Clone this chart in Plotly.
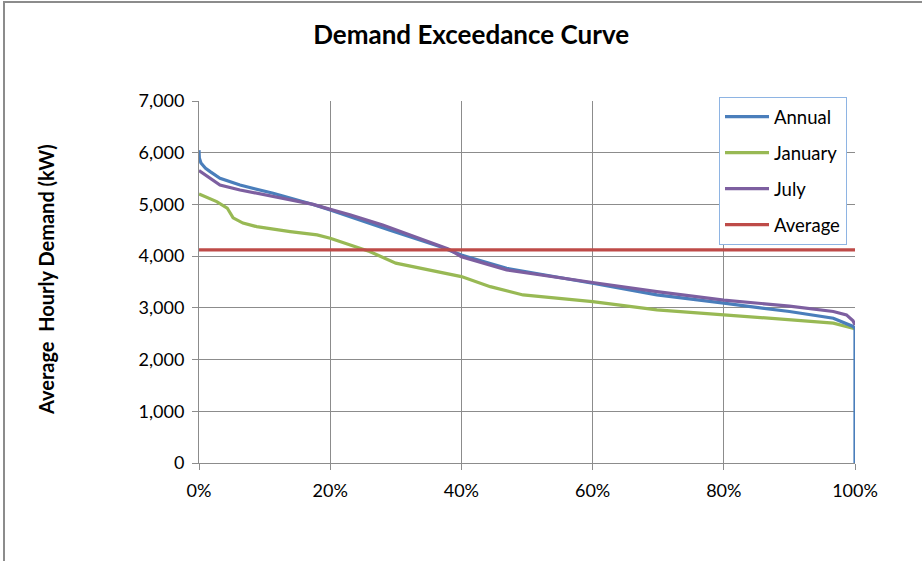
import plotly.graph_objects as go

# Exceedance percentage (%) and demand (kW) for each series
annual_x = [0, 0.05, 0.3, 1, 1.7, 3.2, 6.25, 11.3, 17.4, 20, 29, 36.7, 40, 46.9, 60, 69.8, 80, 90, 96.7, 99.7, 100, 100]
annual_y = [6050, 5900, 5800, 5700, 5635, 5505, 5375, 5215, 5000, 4895, 4505, 4185, 4020, 3765, 3475, 3250, 3090, 2930, 2800, 2640, 2600, 0]

january_x = [0, 2.7, 4.3, 5.2, 6.7, 8.8, 13.9, 18, 20, 23, 26, 30, 34, 38, 40, 44.4, 49.4, 60, 69.8, 80, 90, 96.7, 99.7, 100]
january_y = [5200, 5055, 4930, 4740, 4640, 4570, 4475, 4410, 4345, 4215, 4090, 3865, 3765, 3670, 3605, 3410, 3250, 3120, 2960, 2865, 2770, 2705, 2605, 2590]

july_x = [0, 1.7, 3.2, 6.25, 11.3, 17.4, 20, 23, 28, 34, 38, 40, 46.9, 60, 69.8, 80, 90, 96.7, 98.7, 99.7, 100]
july_y = [5655, 5510, 5375, 5280, 5150, 5000, 4905, 4800, 4600, 4315, 4140, 3990, 3735, 3490, 3315, 3150, 3035, 2930, 2865, 2750, 2670]

average_x = [0, 100]
average_y = [4120, 4120]

x_ticks = [0, 20, 40, 60, 80, 100]
x_tick_labels = ["0%", "20%", "40%", "60%", "80%", "100%"]
y_ticks = [0, 1000, 2000, 3000, 4000, 5000, 6000, 7000]

FONT = "Lato"

fig = go.Figure()
series = [
    ("Annual", annual_x, annual_y, "#4A7EBB"),
    ("January", january_x, january_y, "#98B954"),
    ("July", july_x, july_y, "#7D5FA0"),
    ("Average", average_x, average_y, "#BE4B48"),
]
order = ["January", "Annual", "July", "Average"]
traces = {}
for i, (name, xs, ys, col) in enumerate(series):
    traces[name] = go.Scatter(
        x=[v / 100 for v in xs], y=ys, mode="lines", name=name,
        line=dict(color=col, width=3.2), legendgroup=name, legendrank=i + 1,
        cliponaxis=False,
    )
for name in order:
    fig.add_trace(traces[name])

fig.update_layout(
    width=922, height=561,
    margin=dict(l=199, r=67, t=101, b=98),
    paper_bgcolor="white", plot_bgcolor="white",
    font=dict(family=FONT, size=18, color="#000000"),
    title=dict(text="<b>Demand Exceedance Curve</b>", x=0.511, xanchor="center",
               y=0.937, yanchor="middle", font=dict(size=26, family=FONT)),
    showlegend=True,
    legend=dict(
        x=0.7927, y=1.011, xanchor="left", yanchor="top",
        bordercolor="#8EB4E3", borderwidth=1, bgcolor="white",
        font=dict(size=18.5, family=FONT), tracegroupgap=9,
        itemwidth=44,
    ),
    xaxis=dict(
        range=[0, 1], tickvals=[v / 100 for v in x_ticks], ticktext=x_tick_labels,
        showgrid=True, gridcolor="#8C8C8C", gridwidth=1,
        showline=True, linecolor="#8C8C8C", linewidth=1,
        ticks="outside", ticklen=6, tickcolor="#8C8C8C", ticklabelstandoff=5,
        tickfont=dict(size=18, family=FONT), zeroline=False,
    ),
    yaxis=dict(
        range=[0, 7000], tickvals=y_ticks, tickformat=",",
        showgrid=True, gridcolor="#8C8C8C", gridwidth=1,
        showline=True, linecolor="#8C8C8C", linewidth=1,
        ticks="outside", ticklen=6, tickcolor="#8C8C8C", ticklabelstandoff=4,
        tickfont=dict(size=18, family=FONT), zeroline=False,
    ),
    annotations=[
        dict(text="<b>Average  Hourly Demand (kW)</b>", textangle=-90,
             xref="paper", yref="paper", x=(46 - 199) / 656, y=(463 - 280) / 362,
             xanchor="center", yanchor="middle", showarrow=False,
             font=dict(size=20, family=FONT)),
    ],
    shapes=[
        dict(type="rect", xref="paper", yref="paper",
             x0=(4 - 199) / 656, x1=1.2, y0=-0.5, y1=(463 - 2) / 362,
             line=dict(color="#8C8C8C", width=2), fillcolor="rgba(0,0,0,0)", layer="below"),
    ],
)

fig.write_html("out.html", config={"displayModeBar": False},
               post_script="document.body.style.margin='0';document.body.style.padding='0';")
